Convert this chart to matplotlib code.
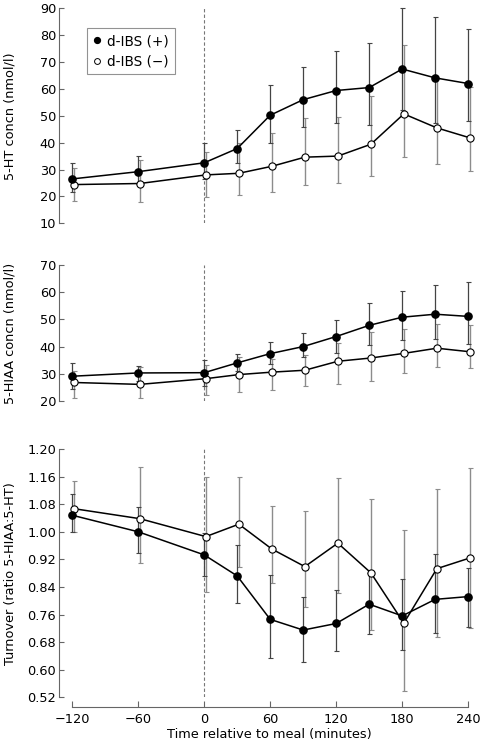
import numpy as np
import matplotlib
matplotlib.use("Agg")
import matplotlib.pyplot as plt
from matplotlib.lines import Line2D

plt.rcParams['font.family'] = ['DejaVu Sans']
plt.rcParams['font.size'] = 9.3

time = [-120, -60, 0, 30, 60, 90, 120, 150, 180, 210, 240]

# 5-HT concn (nmol/l)
ht_pos = [26.5, 29.2, 32.5, 37.8, 50.2, 56.0, 59.4, 60.5, 67.4, 64.1, 62.0]
ht_pos_hi = [32.5, 35.0, 40.0, 44.8, 61.3, 68.3, 74.2, 77.2, 90.0, 86.6, 82.4]
ht_pos_lo = [21.5, 24.5, 26.5, 32.3, 39.8, 45.9, 47.2, 46.5, 52.0, 47.4, 48.0]
ht_neg = [24.4, 24.8, 28.0, 28.6, 31.2, 34.6, 35.0, 39.4, 50.7, 45.5, 41.8]
ht_neg_hi = [30.5, 33.5, 36.6, 39.8, 43.7, 49.1, 49.4, 57.5, 76.5, 64.2, 60.6]
ht_neg_lo = [18.3, 18.0, 19.7, 20.5, 21.8, 24.3, 24.9, 27.6, 34.6, 32.1, 29.6]

# 5-HIAA concn (nmol/l)
hiaa_pos = [29.1, 30.3, 30.4, 34.0, 37.4, 40.0, 43.7, 47.8, 50.8, 51.9, 51.1]
hiaa_pos_hi = [33.9, 33.0, 35.2, 37.1, 41.5, 44.9, 49.9, 56.2, 60.4, 62.6, 63.6]
hiaa_pos_lo = [24.5, 27.2, 25.6, 31.0, 33.5, 36.0, 37.5, 40.5, 42.6, 42.8, 40.8]
hiaa_neg = [26.8, 26.1, 28.2, 29.7, 30.6, 31.3, 34.6, 35.8, 37.5, 39.4, 38.1]
hiaa_neg_hi = [31.1, 32.5, 33.4, 36.0, 35.6, 37.0, 41.4, 45.5, 46.3, 48.3, 48.0]
hiaa_neg_lo = [21.2, 21.2, 22.1, 23.4, 24.2, 25.5, 26.3, 27.4, 30.3, 32.6, 32.2]

# Turnover (ratio 5-HIAA:5-HT)
turn_pos = [1.048, 1.000, 0.933, 0.872, 0.746, 0.715, 0.734, 0.790, 0.756, 0.804, 0.812]
turn_pos_hi = [1.109, 1.071, 0.995, 0.962, 0.875, 0.812, 0.831, 0.880, 0.862, 0.936, 0.894]
turn_pos_lo = [1.000, 0.937, 0.872, 0.792, 0.633, 0.623, 0.654, 0.703, 0.657, 0.706, 0.725]
turn_neg = [1.067, 1.038, 0.986, 1.022, 0.950, 0.899, 0.967, 0.881, 0.735, 0.893, 0.924]
turn_neg_hi = [1.148, 1.187, 1.160, 1.158, 1.075, 1.061, 1.157, 1.094, 1.005, 1.123, 1.184]
turn_neg_lo = [0.998, 0.909, 0.826, 0.899, 0.850, 0.783, 0.822, 0.715, 0.539, 0.694, 0.720]

ht_ticks = [10, 20, 30, 40, 50, 60, 70, 80, 90]
hiaa_ticks = [20, 30, 40, 50, 60, 70]
turn_ticks = [0.52, 0.60, 0.68, 0.76, 0.84, 0.92, 1.00, 1.08, 1.16, 1.24]
turn_labels = ['0.52', '0.60', '0.68', '0.76', '0.84', '0.92', '1.00', '1.08', '1.16', '1.20']
x_ticks = [-120, -60, 0, 60, 120, 180, 240]

spine_col = '#666666'

fig = plt.figure(figsize=(4.8, 7.46), dpi=100)
left, width = 0.1229, 0.8754
ax1 = fig.add_axes([left, 0.7007, width, 0.2882])
ax2 = fig.add_axes([left, 0.4625, width, 0.1823])
ax3 = fig.add_axes([left, 0.0653, width, 0.3328])


def draw(ax, pos, pos_lo, pos_hi, neg, neg_lo, neg_hi):
    t = np.array(time, dtype=float)
    pos = np.array(pos); neg = np.array(neg)
    perr = [pos - np.array(pos_lo), np.array(pos_hi) - pos]
    nerr = [neg - np.array(neg_lo), np.array(neg_hi) - neg]
    ax.axvline(0, color='#777777', ls=(0, (3, 2)), lw=0.8, zorder=1)
    ax.errorbar(t + 1.5, neg, yerr=nerr, fmt='none', ecolor='#8c8c8c',
                elinewidth=1.0, capsize=1.8, capthick=0.8, zorder=2, clip_on=False)
    ax.errorbar(t, pos, yerr=perr, fmt='none', ecolor='#444444',
                elinewidth=0.9, capsize=1.8, capthick=0.8, zorder=3, clip_on=False)
    ax.plot(t + 1.5, neg, '-o', color='black', mfc='white', mec='black', mew=0.8,
            ms=5.2, lw=1.1, zorder=4, clip_on=False)
    ax.plot(t, pos, '-o', color='black', mfc='black', mec='black',
            ms=5.2, lw=1.1, zorder=5, clip_on=False)
    ax.set_xlim(-132, 250)
    for s in ['top', 'right']:
        ax.spines[s].set_visible(False)
    ax.spines['left'].set_color(spine_col)
    ax.tick_params(axis='y', direction='in', length=3.5, color=spine_col,
                   labelsize=9.3, pad=2)


draw(ax1, ht_pos, ht_pos_lo, ht_pos_hi, ht_neg, ht_neg_lo, ht_neg_hi)
draw(ax2, hiaa_pos, hiaa_pos_lo, hiaa_pos_hi, hiaa_neg, hiaa_neg_lo, hiaa_neg_hi)
draw(ax3, turn_pos, turn_pos_lo, turn_pos_hi, turn_neg, turn_neg_lo, turn_neg_hi)

ax1.set_ylim(10, 90)
ax1.set_yticks(ht_ticks)
ax2.set_ylim(20, 70)
ax2.set_yticks(hiaa_ticks)
ax3.set_ylim(0.52, 1.24)
ax3.set_yticks(turn_ticks)
ax3.set_yticklabels(turn_labels)

for ax in (ax1, ax2):
    ax.spines['bottom'].set_visible(False)
    ax.set_xticks([])

ax3.spines['bottom'].set_position(('outward', 7))
ax3.spines['bottom'].set_bounds(-120, 240)
ax3.spines['bottom'].set_color(spine_col)
ax3.set_xticks(x_ticks)
ax3.tick_params(axis='x', direction='in', length=4, color=spine_col,
                labelsize=9.3, pad=4)
ax3.set_xlabel('Time relative to meal (minutes)', fontsize=9.3, labelpad=1.5)

ax1.set_ylabel('5-HT concn (nmol/l)', fontsize=9.3)
ax2.set_ylabel('5-HIAA concn (nmol/l)', fontsize=9.3)
ax3.set_ylabel('Turnover (ratio 5-HIAA:5-HT)', fontsize=9.3)
for ax in (ax1, ax2, ax3):
    ax.yaxis.set_label_coords(-0.1, 0.5)

handles = [
    Line2D([], [], ls='none', marker='o', mfc='black', mec='black', ms=4.2),
    Line2D([], [], ls='none', marker='o', mfc='white', mec='black', mew=0.7, ms=4.2),
]
leg = ax1.legend(handles, ['d-IBS (+)', 'd-IBS (\u2212)'], loc='upper left',
                 bbox_to_anchor=(0.067, 0.908), borderaxespad=0, fontsize=9.8,
                 fancybox=False, handlelength=0.6, handletextpad=0.4,
                 borderpad=0.45, labelspacing=0.45)
leg.get_frame().set_edgecolor('#777777')
leg.get_frame().set_linewidth(0.8)

fig.savefig('out.png', dpi=100)
